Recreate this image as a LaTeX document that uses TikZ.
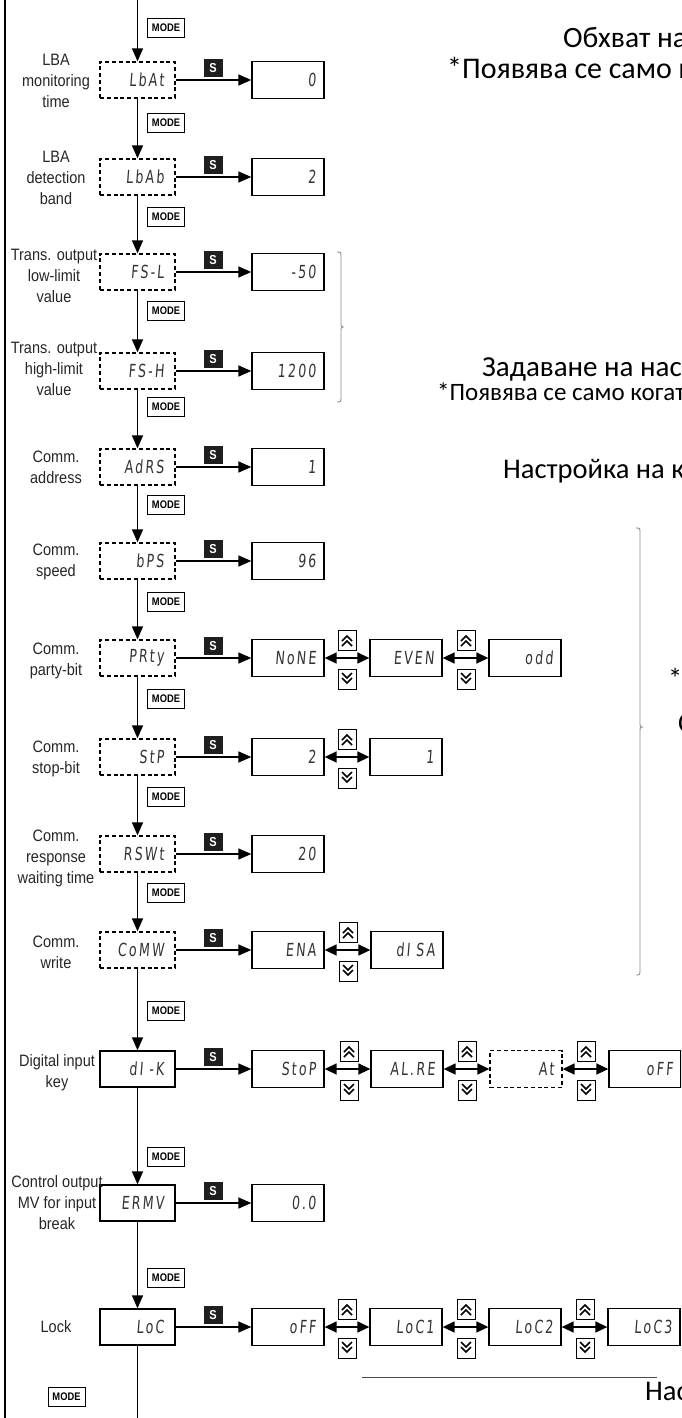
\documentclass[tikz,border=0pt]{standalone}
\usepackage{fontspec}
\usetikzlibrary{arrows.meta}
\newfontfamily\lblfam{Liberation Sans}[FakeStretch=0.88]
\newfontfamily\segfam{DejaVu Sans}[FakeStretch=0.7,FakeSlant=0.08,LetterSpace=12]
\newfontfamily\bgfam{Carlito}
\newfontfamily\modefam{Liberation Sans}[FakeStretch=0.85]
\begin{document}
\begin{tikzpicture}[x=1pt,y=-1pt,
  lbl/.style={font=\lblfam\fontsize{16.5}{21}\selectfont, align=center, inner sep=0pt, text=black!85},
  mainbox/.style={draw, line width=1.3pt, minimum width=75pt, minimum height=36pt, inner sep=0pt,
     text width=53pt, align=right, font=\segfam\fontsize{18}{18}\selectfont, text=black!80},
  maind/.style={mainbox, dash pattern=on 4pt off 2.8pt},
  valbox/.style={mainbox, minimum width=72pt, minimum height=37pt, text width=56pt},
  vald/.style={valbox, dash pattern=on 4pt off 2.8pt},
  sbox/.style={fill=black!88, text=white, minimum width=19pt, minimum height=18pt, inner sep=0pt,
     font=\modefam\bfseries\fontsize{13}{13}\selectfont},
  modebox/.style={draw, line width=1pt, minimum width=37pt, minimum height=19pt, inner sep=0pt,
     font=\modefam\bfseries\fontsize{11}{11}\selectfont},
  flow/.style={line width=1.5pt, -{Triangle[length=13pt,width=11pt]}},
  dbl/.style={line width=1.5pt, {Triangle[length=12pt,width=11pt]}-{Triangle[length=12pt,width=11pt]}},
  keyup/.style={draw, line width=1pt, minimum width=18pt, minimum height=20pt, inner sep=0pt,
     path picture={\begin{scope}[shift={(path picture bounding box.center)}]
       \draw[line width=1.7pt] (-5,1)--(0,-4)--(5,1);
       \draw[line width=1.7pt] (-5,6)--(0,1)--(5,6);\end{scope}}},
  keydn/.style={draw, line width=1pt, minimum width=18pt, minimum height=20pt, inner sep=0pt,
     path picture={\begin{scope}[shift={(path picture bounding box.center)}]
       \draw[line width=1.7pt] (-5,-1)--(0,4)--(5,-1);
       \draw[line width=1.7pt] (-5,-6)--(0,-1)--(5,-6);\end{scope}}},
  bgtxt/.style={font=\bgfam\fontsize{28.5}{32}\selectfont, inner sep=0pt, anchor=base west},
  brace/.style={draw=black!45, line width=0.9pt}
]
\useasboundingbox (0,0) rectangle (681,1418);
\clip (0,0) rectangle (681,1418);

% left border line
\coordinate (lt) at (5,0);
\coordinate (lb) at (5,1418);
\draw[line width=1.5pt] (lt) -- (lb);

% main column
\node[maind] (m1) at (137.5,80) {LbAt};
\node[maind] (m2) at (137.5,177) {LbAb};
\node[maind] (m3) at (137.5,272) {FS-L};
\node[maind] (m4) at (137.5,371) {FS-H};
\node[maind] (m5) at (137.5,467) {AdRS};
\node[maind] (m6) at (137.5,561) {bPS};
\node[maind] (m7) at (137.5,658) {PRty};
\node[maind] (m8) at (137.5,757) {StP};
\node[maind] (m9) at (137.5,854) {RSWt};
\node[maind] (m10) at (137.5,950) {CoMW};
\node[mainbox] (m11) at (137.5,1069) {dI -K};
\node[mainbox] (m12) at (137.5,1203) {ERMV};
\node[mainbox] (m13) at (137.5,1327) {LoC};

\coordinate (top) at (137.5,0);
\coordinate (bot) at (137.5,1418);
\draw[flow] (top) -- (m1);
\draw[flow] (m1) -- (m2);
\draw[flow] (m2) -- (m3);
\draw[flow] (m3) -- (m4);
\draw[flow] (m4) -- (m5);
\draw[flow] (m5) -- (m6);
\draw[flow] (m6) -- (m7);
\draw[flow] (m7) -- (m8);
\draw[flow] (m8) -- (m9);
\draw[flow] (m9) -- (m10);
\draw[flow] (m10) -- (m11);
\draw[flow] (m11) -- (m12);
\draw[flow] (m12) -- (m13);
\draw[line width=1.5pt] (m13) -- (bot);

% MODE labels
\node[modebox] (md0) at (166,28) {MODE};
\node[modebox] (md1) at (166,123) {MODE};
\node[modebox] (md2) at (166,217) {MODE};
\node[modebox] (md3) at (166,311) {MODE};
\node[modebox] (md4) at (166,407) {MODE};
\node[modebox] (md5) at (166,505) {MODE};
\node[modebox] (md6) at (166,602) {MODE};
\node[modebox] (md7) at (166,699) {MODE};
\node[modebox] (md8) at (166,797) {MODE};
\node[modebox] (md9) at (166,893) {MODE};
\node[modebox] (md10) at (166,1011) {MODE};
\node[modebox] (md11) at (166,1157) {MODE};
\node[modebox] (md12) at (166,1278) {MODE};
\node[modebox] (md13) at (66.5,1397) {MODE};

% left labels
\node[lbl] (l1) at (56,81) {LBA\\monitoring\\time};
\node[lbl] (l2) at (56,178) {LBA\\detection\\band};
\node[lbl] (l3) at (54,276) {Trans. output\\low-limit\\value};
\node[lbl] (l4) at (54,369) {Trans. output\\high-limit\\value};
\node[lbl] (l5) at (56,467) {Comm.\\address};
\node[lbl] (l6) at (56,562) {Comm.\\speed};
\node[lbl] (l7) at (56,661) {Comm.\\party-bit};
\node[lbl] (l8) at (56,759) {Comm.\\stop-bit};
\node[lbl] (l9) at (56,858) {Comm.\\response\\waiting time};
\node[lbl] (l10) at (56,952) {Comm.\\write};
\node[lbl] (l11) at (57,1073) {Digital input\\key};
\node[lbl] (l12) at (57,1203) {Control output\\MV for input\\break};
\node[lbl] (l13) at (56,1327) {Lock};

% value boxes and S arrows
\node[valbox] (v1) at (288,80) {0};
\node[valbox] (v2) at (288,177) {2};
\node[valbox] (v3) at (288,272) {-50};
\node[valbox] (v4) at (288,371) {1200};
\node[valbox] (v5) at (288,467) {1};
\node[valbox] (v6) at (288,561) {96};
\node[valbox] (v7) at (288,658) {NoNE};
\node[valbox] (v8) at (288,757) {2};
\node[valbox] (v9) at (288,854) {20};
\node[valbox] (v10) at (288,950) {ENA};
\node[valbox] (v11) at (288,1069) {StoP};
\node[valbox] (v12) at (288,1203) {0.0};
\node[valbox] (v13) at (288,1327) {oFF};

\foreach \i/\y in {1/80,2/177,3/272,4/371,5/467,6/561,7/658,8/757,9/854,10/950,11/1069,12/1203,13/1327}{
  \node[sbox] (s\i) at (213,\y-12) {S};
  \draw[flow] (m\i) -- (v\i);
}

% option chains
\node[valbox] (v7b) at (406,658) {EVEN};
\node[valbox] (v7c) at (525,658) {odd};
\node[valbox] (v8b) at (406,757) {1};
\node[valbox] (v10b) at (407,950) {dI SA};
\node[valbox] (v11b) at (407,1069) {AL.RE};
\node[vald] (v11c) at (526,1069) {At};
\node[valbox] (v11d) at (645,1069) {oFF};
\node[valbox] (v13b) at (406,1327) {LoC1};
\node[valbox] (v13c) at (525,1327) {LoC2};
\node[valbox] (v13d) at (644,1327) {LoC3};

\draw[dbl] (v7) -- (v7b);
\draw[dbl] (v7b) -- (v7c);
\draw[dbl] (v8) -- (v8b);
\draw[dbl] (v10) -- (v10b);
\draw[dbl] (v11) -- (v11b);
\draw[dbl] (v11b) -- (v11c);
\draw[dbl] (v11c) -- (v11d);
\draw[dbl] (v13) -- (v13b);
\draw[dbl] (v13b) -- (v13c);
\draw[dbl] (v13c) -- (v13d);

\foreach \n/\x/\y in {a/347/658,b/466/658,c/347/757,d/348/950,e/349/1069,f/467/1069,g/586/1069,h/347/1327,i/466/1327,j/585/1327}{
  \node[keyup] (ku\n) at (\x,\y-18) {};
  \node[keydn] (kd\n) at (\x,\y+21) {};
}

% braces
\draw[brace] (337,252) .. controls (341,252) .. (341,258) -- (341,321) .. controls (341,327) .. (344,327)
   .. controls (341,327) .. (341,333) -- (341,396) .. controls (341,402) .. (337,402);
\draw[brace] (636,528) .. controls (640,528) .. (640,534) -- (640,721) .. controls (640,727) .. (643,727)
   .. controls (640,727) .. (640,733) -- (640,969) .. controls (640,975) .. (636,975);

% bottom rule
\coordinate (hl) at (362,1377);
\coordinate (hr) at (657,1377);
\draw[line width=1pt, black!70] (hl) -- (hr);

% right-side texts
\node[bgtxt, font=\bgfam\fontsize{29.5}{32}\selectfont] (t1) at (563,48) {Обхват на};
\node[bgtxt, font=\bgfam\fontsize{30}{32}\selectfont] (t2) at (447,79) {\spaceskip=6.6pt\relax *Появява се само когато};
\node[bgtxt, font=\bgfam\fontsize{29}{32}\selectfont] (t3) at (482,376) {Задаване на настройка};
\node[bgtxt, font=\bgfam\fontsize{25}{28}\selectfont] (t4) at (437,400) {*Появява се само когато};
\node[bgtxt] (t5) at (503,478) {Настройка на комуникация};
\node[bgtxt] (t6) at (668,688) {*Появява};
\node[bgtxt] (t7) at (678,732) {С};
\node[bgtxt] (t8) at (645,1400) {Настройка};
\end{tikzpicture}
\end{document}
